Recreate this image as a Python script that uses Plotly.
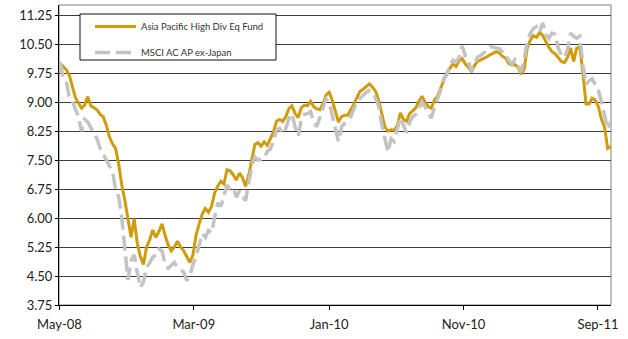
import pandas as pd
import plotly.graph_objects as go

# Weekly observation dates (Fridays), May-08 .. Sep-11
dates = pd.date_range("2008-05-02", "2011-09-30", freq="7D")

fund_name = "Asia Pacific High Div Eq Fund"
index_name = "MSCI AC AP ex-Japan"

fund = [
    10.00, 9.93, 9.84, 9.70, 9.38, 9.12, 8.97, 8.84, 8.92, 9.14,
    8.90, 8.86, 8.80, 8.68, 8.62, 8.40, 8.10, 7.92, 7.80, 7.40,
    6.85, 6.45, 5.95, 5.50, 5.98, 5.35, 5.00, 4.80, 5.25, 5.43,
    5.69, 5.50, 5.65, 5.85, 5.55, 5.30, 5.15, 5.25, 5.40, 5.25,
    5.15, 4.98, 4.85, 5.05, 5.55, 5.85, 6.10, 6.25, 6.15, 6.30,
    6.65, 6.82, 6.95, 6.88, 7.25, 7.22, 7.12, 6.98, 7.16, 7.05,
    6.82, 7.10, 7.55, 7.90, 7.95, 7.86, 7.97, 7.88, 8.05, 8.22,
    8.50, 8.55, 8.50, 8.62, 8.83, 8.90, 8.70, 8.60, 8.85, 8.92,
    8.90, 9.02, 8.88, 8.82, 8.80, 8.95, 9.18, 9.25, 9.05, 8.78,
    8.48, 8.62, 8.66, 8.66, 8.79, 8.95, 9.12, 9.28, 9.33, 9.40,
    9.47, 9.38, 9.28, 9.05, 8.66, 8.36, 8.25, 8.28, 8.27, 8.38,
    8.72, 8.55, 8.50, 8.70, 8.77, 8.85, 9.02, 9.15, 9.00, 8.88,
    8.84, 9.05, 9.15, 9.35, 9.55, 9.75, 9.87, 9.98, 9.92, 10.07,
    10.12, 9.98, 9.90, 9.78, 9.95, 10.05, 10.09, 10.12, 10.17, 10.22,
    10.26, 10.30, 10.27, 10.18, 10.14, 10.00, 9.96, 9.97, 9.90, 9.72,
    9.85, 10.40, 10.60, 10.72, 10.67, 10.80, 10.72, 10.55, 10.42, 10.30,
    10.25, 10.15, 10.05, 10.02, 10.15, 10.40, 10.05, 10.40, 10.42, 9.75,
    8.95, 8.95, 9.10, 9.05, 8.88, 8.55, 8.35, 7.80, 7.85,
]

benchmark = [
    10.04, 9.68, 9.55, 9.15, 9.03, 8.85, 8.62, 8.25, 8.55, 8.48,
    8.35, 8.18, 8.05, 7.80, 7.65, 7.50, 7.35, 7.20, 6.75, 6.55,
    6.00, 5.20, 4.40, 4.90, 5.05, 4.60, 4.20, 4.35, 4.72, 4.84,
    4.98, 5.05, 5.20, 5.15, 4.80, 4.70, 4.78, 4.85, 4.72, 4.65,
    4.60, 4.38, 4.50, 4.80, 5.00, 5.30, 5.60, 5.50, 5.68, 5.62,
    6.03, 6.39, 6.30, 6.55, 6.85, 6.75, 6.78, 6.54, 6.70, 6.55,
    6.45, 6.90, 7.35, 7.58, 7.50, 7.52, 7.55, 7.72, 7.78, 8.00,
    8.27, 8.32, 8.18, 8.30, 8.58, 8.70, 8.35, 8.12, 8.55, 8.68,
    8.70, 8.75, 8.48, 8.36, 8.58, 8.85, 9.08, 9.00, 8.70, 8.32,
    7.98, 8.36, 8.45, 8.55, 8.62, 8.82, 9.02, 9.10, 9.18, 9.25,
    9.30, 9.25, 9.10, 8.90, 8.42, 8.10, 7.70, 8.05, 7.98, 8.30,
    8.60, 8.40, 8.20, 8.48, 8.62, 8.68, 8.82, 9.00, 8.88, 8.75,
    8.58, 8.85, 9.05, 9.30, 9.60, 9.70, 9.96, 10.08, 10.04, 10.15,
    10.45, 10.20, 10.05, 9.78, 10.00, 10.17, 10.20, 10.28, 10.38, 10.43,
    10.42, 10.39, 10.38, 10.30, 10.22, 10.08, 9.98, 10.09, 9.92, 9.78,
    10.10, 10.55, 10.78, 10.90, 10.95, 10.80, 11.05, 10.75, 10.65, 10.78,
    10.75, 10.40, 10.22, 10.15, 10.35, 10.78, 10.70, 10.65, 10.70, 9.95,
    9.45, 9.55, 9.60, 9.45, 9.30, 9.00, 8.65, 8.30, 8.50,
]

y_ticks = [3.75, 4.50, 5.25, 6.00, 6.75, 7.50, 8.25, 9.00, 9.75, 10.50, 11.25]
x_ticks = ["2008-05-01", "2009-03-01", "2010-01-01", "2010-11-01", "2011-09-01"]
x_tick_text = ["May-08", "Mar-09", "Jan-10", "Nov-10", "Sep-11"]

n = min(len(dates), len(fund), len(benchmark))

FONT = "Lato, 'Open Sans', sans-serif"

# plot area in pixels
L, R, T, B = 59, 611, 5, 305
PW, PH = R - L, B - T

def px_x(p):
    return (p - L) / PW

def px_y(p):
    return 1 - (p - T) / PH

fig = go.Figure()
fig.add_trace(go.Scatter(
    x=dates[:n], y=fund[:n], mode="lines", name=fund_name,
    legendgroup="a",
    line=dict(color="#D09C0C", width=3),
))
fig.add_trace(go.Scatter(
    x=dates[:n], y=benchmark[:n], mode="lines", name=index_name,
    legendgroup="b",
    line=dict(color="#C3C3C3", width=3.5, dash="15px,6px"),
))

fig.update_layout(
    width=628, height=339,
    margin=dict(l=L, r=628 - R, t=T, b=339 - B),
    paper_bgcolor="white", plot_bgcolor="white",
    font=dict(family=FONT, color="#222222", size=13),
    showlegend=True,
    legend=dict(
        x=px_x(90), y=px_y(12),
        xanchor="left", yanchor="top",
        bgcolor="rgba(0,0,0,0)", borderwidth=0,
        font=dict(family=FONT, size=9.5, color="#333333"),
        traceorder="grouped", tracegroupgap=7,
        itemwidth=41,
    ),
    xaxis=dict(
        type="date",
        range=["2008-04-30", "2011-09-30 12:00"],
        tickvals=x_ticks, ticktext=x_tick_text,
        ticks="outside", ticklen=4, tickcolor="black",
        ticklabelstandoff=3,
        showline=True, linecolor="black", linewidth=1,
        showgrid=False, zeroline=False,
        tickfont=dict(size=13, color="#222222"),
    ),
    yaxis=dict(
        range=[3.75, 11.509],
        tickvals=y_ticks, ticktext=[f"{v:.2f}" for v in y_ticks],
        ticks="outside", ticklen=3, tickcolor="black",
        showline=True, linecolor="black", linewidth=1,
        showgrid=True, gridcolor="#3c3c3c", gridwidth=1,
        zeroline=False,
        tickfont=dict(size=13, color="#222222"),
    ),
    shapes=[
        dict(type="rect", xref="paper", yref="paper", x0=0, x1=1, y0=0, y1=1,
             line=dict(color="#808080", width=1), fillcolor="rgba(0,0,0,0)",
             layer="below"),
        dict(type="rect", xref="paper", yref="paper",
             x0=px_x(80), x1=px_x(276), y0=px_y(60), y1=px_y(14),
             line=dict(color="#111111", width=1), fillcolor="white",
             layer="above"),
    ],
)

fig.write_html("out.html")
